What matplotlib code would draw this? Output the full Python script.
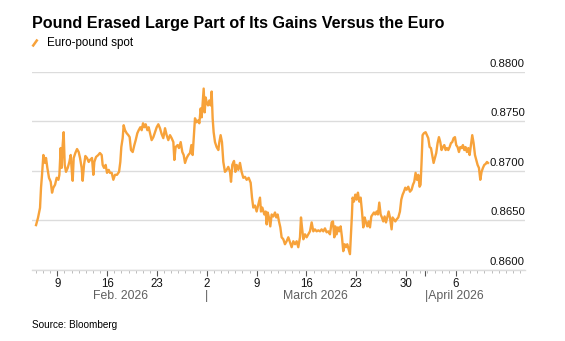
import matplotlib
matplotlib.use("Agg")
import matplotlib.pyplot as plt
import matplotlib.dates as mdates
import matplotlib.ticker as mticker
import matplotlib.transforms as mtransforms
from matplotlib.lines import Line2D
import pandas as pd

plt.rcParams["font.family"] = ["Liberation Sans", "DejaVu Sans"]

# euro-pound spot, time in days since 1 Feb 2026
start = pd.Timestamp("2026-02-01")
days = [
    5.01, 5.29, 5.57, 5.71, 5.85, 6.04, 6.27, 6.41, 6.60, 6.83, 7.07, 7.26, 7.44, 7.68,
    7.91, 8.15, 8.29, 8.47, 8.61, 8.75, 8.89, 9.04, 9.22, 9.46, 9.69, 9.88, 10.07, 10.16,
    10.30, 10.53, 10.77, 11.00, 11.19, 11.42, 11.56, 11.75, 11.94, 12.17, 12.41, 12.59,
    12.87, 13.06, 13.20, 13.44, 13.76, 13.98, 14.23, 14.37, 14.56, 14.79, 14.98, 15.22,
    15.40, 15.64, 15.87, 16.10, 16.38, 16.67, 16.85, 16.99, 17.18, 17.32, 17.51, 17.74,
    17.98, 18.16, 18.35, 18.59, 18.82, 19.01, 19.24, 19.43, 19.66, 19.85, 20.04, 20.22,
    20.41, 20.65, 20.83, 21.02, 21.25, 21.49, 21.72, 21.96, 22.19, 22.42, 22.66, 22.89,
    23.13, 23.36, 23.59, 23.83, 24.06, 24.30, 24.44, 24.62, 24.90, 25.09, 25.33, 25.56,
    25.75, 25.94, 26.17, 26.40, 26.64, 26.83, 27.01, 27.20, 27.34, 27.57, 27.81, 27.95,
    28.14, 28.28, 28.42, 28.56, 28.70, 28.84, 28.98, 29.17, 29.35, 29.54, 29.68, 29.82,
    29.96, 30.15, 30.38, 30.62, 30.76, 30.94, 31.13, 31.32, 31.55, 31.79, 32.02, 32.26,
    32.40, 32.58, 32.82, 33.01, 33.19, 33.43, 33.66, 33.89, 34.13, 34.36, 34.60, 34.88,
    35.16, 35.35, 35.53, 35.77, 36.00, 36.24, 36.47, 36.61, 36.80, 37.08, 37.27, 37.41,
    37.55, 37.73, 37.92, 38.11, 38.34, 38.58, 38.76, 38.95, 39.14, 39.33, 39.51, 39.75,
    39.98, 40.21, 40.45, 40.68, 40.92, 41.15, 41.39, 41.62, 41.85, 42.09, 42.23, 42.37,
    42.56, 42.79, 43.02, 43.26, 43.49, 43.73, 43.96, 44.19, 44.43, 44.66, 44.90, 45.13,
    45.36, 45.60, 45.83, 46.07, 46.30, 46.54, 46.72, 46.91, 47.05, 47.24, 47.42, 47.61,
    47.80, 47.99, 48.17, 48.36, 48.55, 48.73, 48.92, 49.11, 49.25, 49.39, 49.48, 49.67,
    49.86, 50.05, 50.23, 50.42, 50.61, 50.80, 50.98, 51.17, 51.36, 51.54, 51.73, 51.92,
    52.11, 52.29, 52.48, 52.67, 52.85, 53.04, 53.23, 53.42, 53.60, 53.79, 53.98, 54.17,
    54.35, 54.54, 54.73, 54.96, 55.10, 55.29, 55.48, 55.66, 55.90, 56.13, 56.32, 56.51,
    56.69, 56.88, 57.07, 57.30, 57.54, 57.77, 57.96, 58.14, 58.33, 58.52, 58.71, 58.89,
    59.03, 59.17, 59.31, 59.50, 59.74, 59.92, 60.11, 60.30, 60.49, 60.67, 60.86, 61.05,
    61.23, 61.42, 61.61, 61.80, 61.98, 62.17, 62.36, 62.55, 62.73, 62.92, 63.11, 63.30,
    63.48, 63.67, 63.86, 64.04, 64.23, 64.42, 64.61, 64.79, 64.98, 65.17, 65.35, 65.54,
    65.73, 65.92, 66.10, 66.29, 66.48, 66.67, 66.85, 67.04, 67.23, 67.42, 67.60, 67.79,
    67.98, 68.17, 68.36, 68.50,
]
spot = [
    0.86453, 0.86527, 0.86627, 0.8683, 0.8696, 0.8716, 0.8708, 0.8713, 0.8703, 0.8693, 0.8689, 0.8678, 0.8683, 0.8686,
    0.8693, 0.8691, 0.8696, 0.8723, 0.8703, 0.8726, 0.8739, 0.8706, 0.8699, 0.8703, 0.8709, 0.8716, 0.8696, 0.8690,
    0.8713, 0.8718, 0.8722, 0.8719, 0.8713, 0.8703, 0.8690, 0.8706, 0.8715, 0.8713, 0.8709, 0.8711,
    0.8713, 0.8696, 0.8709, 0.8714, 0.8716, 0.8718, 0.8716, 0.8706, 0.8703, 0.8706, 0.8698, 0.8701,
    0.8698, 0.8698, 0.8691, 0.8696, 0.8696, 0.8699, 0.8709, 0.8724, 0.8733, 0.8746, 0.8741, 0.8738,
    0.8736, 0.8734, 0.8721, 0.8719, 0.8726, 0.8731, 0.8738, 0.8741, 0.8744, 0.8741, 0.8748, 0.8744,
    0.8747, 0.8741, 0.8744, 0.8738, 0.8731, 0.8734, 0.8739, 0.8744, 0.8747, 0.8743, 0.8737, 0.8733,
    0.8743, 0.8736, 0.8731, 0.8736, 0.8733, 0.8729, 0.8711, 0.8724, 0.8726, 0.8723, 0.8729, 0.8719,
    0.8716, 0.8708, 0.8713, 0.8716, 0.8718, 0.8726, 0.8716, 0.8738, 0.8753, 0.8749, 0.8751, 0.8748,
    0.8763, 0.8754, 0.8769, 0.8783, 0.8759, 0.8774, 0.8769, 0.8766, 0.8771, 0.8766, 0.8780, 0.8753,
    0.8739, 0.8729, 0.8724, 0.8721, 0.8729, 0.8736, 0.8729, 0.8709, 0.8699, 0.8701, 0.8704, 0.8699,
    0.8689, 0.8706, 0.8710, 0.8699, 0.8706, 0.8701, 0.8708, 0.8699, 0.8693, 0.8694, 0.8691, 0.8693,
    0.8688, 0.8673, 0.8663, 0.8665, 0.8659, 0.8666, 0.8673, 0.8659, 0.8663, 0.8656, 0.8659, 0.8646,
    0.8658, 0.8653, 0.8644, 0.8656, 0.8654, 0.8658, 0.8653, 0.8656, 0.8649, 0.8643, 0.8633, 0.8631,
    0.8626, 0.8629, 0.8633, 0.8628, 0.8623, 0.8629, 0.8626, 0.8629, 0.8623, 0.8633, 0.8653, 0.8643,
    0.8631, 0.8636, 0.8633, 0.8636, 0.8639, 0.8648, 0.8639, 0.8641, 0.8639, 0.8640, 0.8639, 0.8641,
    0.8639, 0.8642, 0.8638, 0.8639, 0.8636, 0.8648, 0.8649, 0.8633, 0.8644, 0.8636, 0.8643, 0.8639,
    0.8644, 0.8633, 0.8619, 0.8626, 0.8623, 0.8626, 0.8621, 0.8616, 0.8636, 0.8656, 0.8673, 0.8669,
    0.8676, 0.8671, 0.8678, 0.8669, 0.8673, 0.8659, 0.8643, 0.8653, 0.8648, 0.8644, 0.8649, 0.8643,
    0.8654, 0.8656, 0.8658, 0.8656, 0.8659, 0.8656, 0.8668, 0.8656, 0.8653, 0.8649, 0.8654, 0.8648,
    0.8653, 0.8659, 0.8653, 0.8641, 0.8653, 0.8651, 0.8649, 0.8651, 0.8653, 0.8659, 0.8671, 0.8676,
    0.8679, 0.8683, 0.8681, 0.8684, 0.8679, 0.8681, 0.8686, 0.8689, 0.8698, 0.8691, 0.8696, 0.8684,
    0.8686, 0.8709, 0.8736, 0.8738, 0.8739, 0.8736, 0.8733, 0.8724, 0.8723, 0.8716, 0.8708, 0.8713,
    0.8718, 0.8728, 0.8734, 0.8729, 0.8721, 0.8724, 0.8726, 0.8721, 0.8723, 0.8721, 0.8724, 0.8728,
    0.8729, 0.8733, 0.8734, 0.8726, 0.8724, 0.8719, 0.8724, 0.8723, 0.8726, 0.8721, 0.8724, 0.8719,
    0.8723, 0.8716, 0.8726, 0.8736, 0.8728, 0.8716, 0.8711, 0.8706, 0.8703, 0.8691, 0.8699, 0.8703,
    0.8706, 0.8707, 0.8709, 0.8708,
]

tick_dates = ["2026-02-09", "2026-02-16", "2026-02-23", "2026-03-02", "2026-03-09",
              "2026-03-16", "2026-03-23", "2026-03-30", "2026-04-01 15:00", "2026-04-06"]
tick_labels = ["9", "16", "23", "2", "9", "16", "23", "30", "", "6"]
y_ticks = [0.8600, 0.8650, 0.8700, 0.8750, 0.8800]
month_labels = ["Feb. 2026", "|", "March 2026", "|April 2026"]
month_dates = ["2026-02-17 22:00", "2026-03-02", "2026-03-17 07:00", "2026-04-01 15:00"]
month_align = ["center", "center", "center", "left"]

orange = "#f7a23a"
grid = "#dcdcdc"

fig = plt.figure(figsize=(5.65, 3.41), dpi=100)
ax = fig.add_axes([0.0561, 0.2082, 0.8731, 0.5815])

x = start + pd.to_timedelta(days, unit="D")
ax.plot(x, spot, color=orange, lw=1.7, solid_joinstyle="round", zorder=3)

ax.set_xlim(start + pd.Timedelta(days=4.4), start + pd.Timedelta(days=73.7))
ax.set_ylim(0.8600, 0.8800)

for s in ["top", "left", "right"]:
    ax.spines[s].set_visible(False)
ax.spines["bottom"].set_color(grid)
ax.spines["bottom"].set_linewidth(1.0)

ax.set_yticks(y_ticks)
ax.yaxis.set_ticklabels([])
ax.tick_params(axis="y", length=0)
ax.grid(axis="y", color=grid, lw=1.0, zorder=0)

# value labels sit above their gridlines, flush right
lab_tr = mtransforms.offset_copy(ax.get_yaxis_transform(), fig=fig, x=0, y=2.3, units="points")
for v in y_ticks:
    ax.text(1.0, v, f"{v:.4f}", transform=lab_tr, ha="right", va="bottom",
            fontsize=8.2, color="#111111")

tick_pos = mdates.date2num(pd.to_datetime(tick_dates, format="mixed"))
ax.xaxis.set_major_locator(mticker.FixedLocator(tick_pos))
ax.xaxis.set_major_formatter(mticker.FixedFormatter(tick_labels))
ax.xaxis.set_minor_locator(mdates.DayLocator())
ax.tick_params(axis="x", which="major", length=4.2, width=0.8, color="#555555",
               labelsize=8.3, labelcolor="#111111", pad=1.5)
ax.tick_params(axis="x", which="minor", length=2.0, width=0.7, color="#bbbbbb")

month_tr = mtransforms.blended_transform_factory(ax.transData, fig.transFigure)
for lab, d, ha in zip(month_labels, month_dates, month_align):
    ax.text(mdates.date2num(pd.Timestamp(d)), 1 - 299 / 341, lab, transform=month_tr,
            ha=ha, va="baseline", fontsize=8.8, color="#5f5f5f")

fig.text(32 / 565, 1 - 28.3 / 341, "Pound Erased Large Part of Its Gains Versus the Euro",
         fontsize=11.6, fontweight="bold", color="black", va="baseline")
fig.add_artist(Line2D([32.5 / 565, 37.5 / 565], [1 - 46.5 / 341, 1 - 39.5 / 341],
                      color=orange, lw=1.8, solid_capstyle="butt"))
fig.text(47 / 565, 1 - 46 / 341, "Euro-pound spot", fontsize=8.4, color="black", va="baseline")
fig.text(32 / 565, 1 - 328 / 341, "Source: Bloomberg", fontsize=7.2, color="black", va="baseline")

fig.savefig("out.png", dpi=100)
